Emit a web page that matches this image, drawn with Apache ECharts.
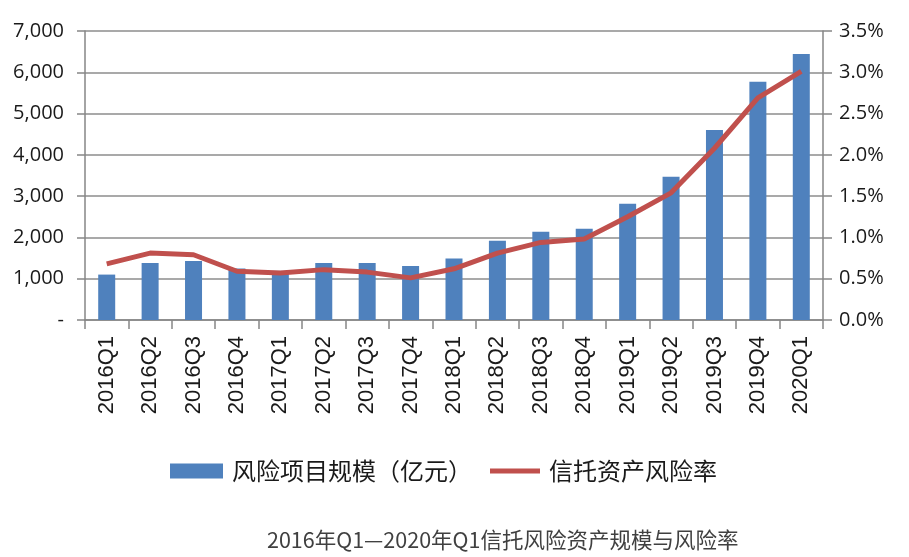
<!DOCTYPE html>
<html><head><meta charset="utf-8">
<script src="https://cdn.jsdelivr.net/npm/echarts@6/dist/echarts.min.js"></script>
<style>html,body{margin:0;padding:0;background:#fff}#c{width:909px;height:557px}</style>
</head><body><div id="c"></div>
<script>
const categories = ['2016Q1','2016Q2','2016Q3','2016Q4','2017Q1','2017Q2','2017Q3','2017Q4','2018Q1','2018Q2','2018Q3','2018Q4','2019Q1','2019Q2','2019Q3','2019Q4','2020Q1'];
const riskScale = [1100,1380,1430,1250,1190,1380,1380,1310,1490,1920,2140,2210,2815,3470,4600,5770,6440];
const riskRate = [0.68,0.81,0.79,0.59,0.57,0.61,0.58,0.51,0.62,0.81,0.94,0.98,1.25,1.54,2.08,2.69,3.01];
const barName = '风险项目规模（亿元）';
const lineName = '信托资产风险率';
const titleText = '2016年Q1—2020年Q1信托风险资产规模与风险率';

const chart = echarts.init(document.getElementById('c'));
const axisColor = '#868686';
const yFont = {color:'#1a1a1a', fontSize:20, fontFamily:'"Open Sans","Noto Sans",sans-serif'};
const legendText = {fontSize:24, color:'#1a1a1a', fontFamily:'"Noto Sans CJK SC",sans-serif', padding:[0,0,0,4]};
chart.setOption({
  animation:false,
  title:{text:titleText, left:262, top:524, textStyle:{fontSize:21.5, fontWeight:'normal', color:'#404040', fontFamily:'"Noto Sans CJK SC","Noto Sans",sans-serif'}},
  legend:[
    {left:165, top:454, itemWidth:53, itemHeight:15, textStyle:legendText,
     data:[{name:barName, icon:'rect'}]},
    {left:485, top:454, itemWidth:50, itemHeight:5, textStyle:legendText,
     data:[{name:lineName, icon:'rect', itemStyle:{color:'#c0504d'}}]}
  ],
  grid:{left:85, right:86, top:31, bottom:237},
  xAxis:{type:'category', data:categories,
    axisLine:{lineStyle:{color:axisColor, width:1.5}},
    axisTick:{show:true, length:9, lineStyle:{color:axisColor, width:1.5}},
    axisLabel:{rotate:90, margin:16, color:'#1a1a1a', fontSize:22, fontFamily:'"Liberation Sans",Arial,sans-serif'}},
  yAxis:[
    {type:'value', min:0, max:7000, interval:1000,
     axisLine:{show:true, lineStyle:{color:axisColor, width:1.5}},
     axisTick:{show:true, length:8, lineStyle:{color:axisColor, width:1.5}},
     splitLine:{lineStyle:{color:'#8c8c8c', width:1.5}},
     axisLabel:Object.assign({margin:21, formatter:v=> v===0 ? '-' : v.toLocaleString('en-US')}, yFont)},
    {type:'value', min:0, max:3.5, interval:0.5, position:'right',
     axisLine:{show:true, lineStyle:{color:axisColor, width:1.5}},
     axisTick:{show:true, length:9, lineStyle:{color:axisColor, width:1.5}},
     splitLine:{show:false},
     axisLabel:Object.assign({margin:16, formatter:v=> v.toFixed(1)+'%'}, yFont)}
  ],
  series:[
    {name:barName, type:'bar', data:riskScale, barWidth:17, itemStyle:{color:'#4f81bd'}},
    {name:lineName, type:'line', yAxisIndex:1, data:riskRate, symbol:'none',
     lineStyle:{color:'#c0504d', width:5}, itemStyle:{color:'#c0504d'}}
  ]
});
</script></body></html>
